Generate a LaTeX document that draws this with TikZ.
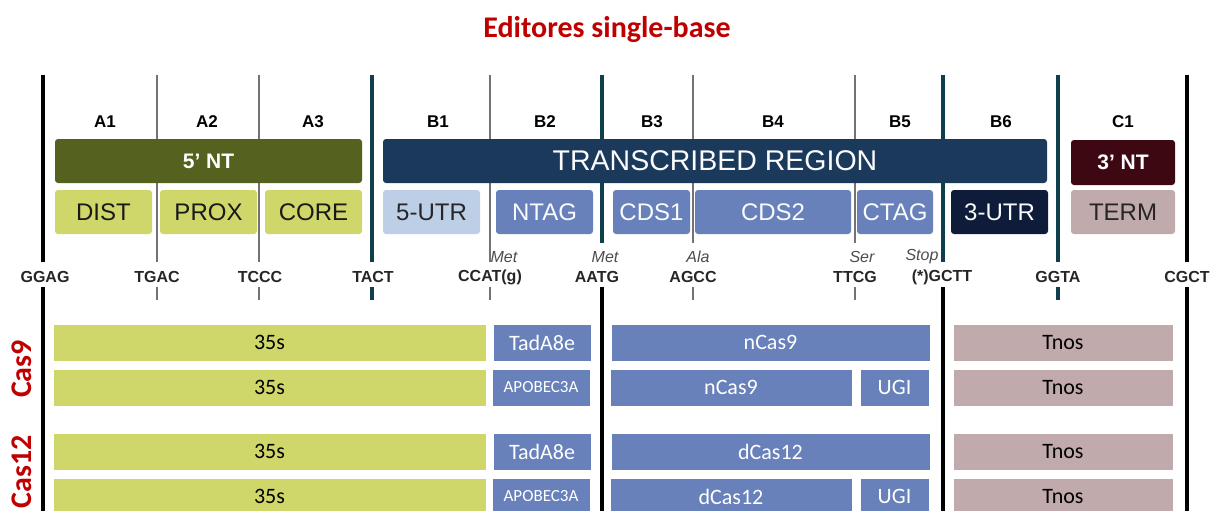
\documentclass[tikz,border=0pt]{standalone}
\usepackage{fontspec}
\setmainfont{Liberation Sans}
\newfontfamily\calibri{Carlito}
\usetikzlibrary{positioning}

\definecolor{olivedark}{RGB}{85,97,30}
\definecolor{olivelight}{RGB}{207,214,106}
\definecolor{navytr}{RGB}{26,57,91}
\definecolor{bluelight}{RGB}{189,207,230}
\definecolor{bluemid}{RGB}{104,129,186}
\definecolor{navydeep}{RGB}{14,28,58}
\definecolor{maroondk}{RGB}{62,8,18}
\definecolor{rosegray}{RGB}{192,170,171}
\definecolor{tealdk}{RGB}{15,62,76}
\definecolor{titlered}{RGB}{192,0,0}

\begin{document}
\begin{tikzpicture}[x=1pt, y=-1pt,
    every node/.style={inner sep=0pt, outer sep=0pt},
    bar/.style={rectangle, rounded corners=3pt, minimum height=44pt, anchor=north west,
                font=\fontsize{24}{24}\selectfont},
    plate/.style={rectangle, draw=white, line width=0.6pt, minimum height=37pt, anchor=north west,
                  font=\calibri\fontsize{22}{22}\selectfont},
    seg/.style={font=\bfseries\fontsize{17}{17}\selectfont},
    site/.style={font=\bfseries\fontsize{16}{16}\selectfont, text=black!85},
    aminoacid/.style={font=\itshape\fontsize{16}{16}\selectfont, text=black!70},
    blackrule/.style={line width=4.5pt, black},
    tealrule/.style={line width=4pt, tealdk},
    thinrule/.style={line width=1.3pt, black!55},
    caslabel/.style={rotate=90, text=titlered, font=\calibri\bfseries\fontsize{30}{30}\selectfont},
    ]
  \useasboundingbox (0,0) rectangle (1212,511);

  % title
  \node[text=titlered, font=\calibri\bfseries\fontsize{30}{30}\selectfont] (title) at (607,30) {Editores single-base};

  % boundary lines
  \foreach \x/\yb in {157/262, 259/262, 490/262, 693/243, 855/243} {
    \draw[thinrule] (\x,75) -- (\x,\yb);
    \draw[thinrule] (\x,287) -- (\x,300);
  }
  \foreach \x/\yb in {372/262, 602/243, 943/262, 1058/262}
    \draw[tealrule] (\x,75) -- (\x,\yb);
  \foreach \x in {372,1058}
    \draw[tealrule] (\x,287) -- (\x,300);
  \foreach \x in {43,1187}
    \draw[blackrule] (\x,75) -- (\x,262);
  \foreach \x in {43,602,943,1187}
    \draw[blackrule] (\x,287) -- (\x,511);

  % segment labels
  \foreach \name/\x in {A1/105, A2/207, A3/313, B1/438, B2/545, B3/652, B4/773, B5/900, B6/1001, C1/1123}
    \node[seg] (seg\name) at (\x,122) {\name};

  % regions
  \node[bar, fill=olivedark, text=white, minimum width=307pt, font=\bfseries\fontsize{21}{21}\selectfont] (nt5) at (55,139) {5’ NT};
  \node[bar, fill=navytr, text=white!92!bluelight, minimum width=664pt, font=\fontsize{28.5}{28.5}\selectfont] (transcribed) at (383,139) {TRANSCRIBED REGION};
  \node[bar, fill=maroondk, text=white, minimum width=104pt, minimum height=45pt, font=\bfseries\fontsize{21}{21}\selectfont] (nt3) at (1071,140) {3’ NT};

  % parts
  \node[bar, fill=olivelight, text=black!90, minimum width=97pt] (dist) at (55,190) {DIST};
  \node[bar, fill=olivelight, text=black!90, minimum width=97pt] (prox) at (160,190) {PROX};
  \node[bar, fill=olivelight, text=black!90, minimum width=97pt] (core) at (265,190) {CORE};
  \node[bar, fill=bluelight, text=black!85, minimum width=97pt] (utr5) at (383,190) {5-UTR};
  \node[bar, fill=bluemid, text=white!92!bluelight, minimum width=97pt] (ntag) at (496,190) {NTAG};
  \node[bar, fill=bluemid, text=white!92!bluelight, minimum width=77pt] (cds1) at (613,190) {CDS1};
  \node[bar, fill=bluemid, text=white!92!bluelight, minimum width=156pt] (cds2) at (695,190) {CDS2};
  \node[bar, fill=bluemid, text=white!92!bluelight, minimum width=76pt] (ctag) at (857,190) {CTAG};
  \node[bar, fill=navydeep, text=white!92!bluelight, minimum width=97pt] (utr3) at (951,190) {3-UTR};
  \node[bar, fill=rosegray, text=black!85, minimum width=104pt] (term) at (1071,190) {TERM};

  % overhangs
  \node[site] (ggag) at (45,277) {GGAG};
  \node[site] (tgac) at (157,277) {TGAC};
  \node[site] (tccc) at (260,277) {TCCC};
  \node[site] (tact) at (373,277) {TACT};
  \node[site] (ccat) at (490,277) {CCAT(g)};
  \node[site] (aatg) at (597,277) {AATG};
  \node[site] (agcc) at (693,277) {AGCC};
  \node[site] (ttcg) at (855,277) {TTCG};
  \node[site] (gctt) at (942,277) {(*)GCTT};
  \node[site] (ggta) at (1058,277) {GGTA};
  \node[site] (cgct) at (1187,277) {CGCT};

  \node[aminoacid] (met1) at (504,257) {Met};
  \node[aminoacid] (met2) at (605,257) {Met};
  \node[aminoacid] (ala) at (698,257) {Ala};
  \node[aminoacid] (ser) at (862,257) {Ser};
  \node[aminoacid] (stop) at (922,257) {Stop};

  % Cas9 editors
  \node[plate, fill=olivelight, minimum width=433pt] (pa) at (53,324) {35s};
  \node[plate, fill=bluemid, text=white, minimum width=98pt, right=7pt of pa] (tadaa) {TadA8e};
  \node[plate, fill=bluemid, text=white, minimum width=319pt] (ncasa) at (611,324) {nCas9};
  \node[plate, fill=rosegray, minimum width=220pt] (tnosa) at (953,324) {Tnos};

  \node[plate, fill=olivelight, minimum width=433pt] (pb) at (53,369) {35s};
  \node[plate, fill=bluemid, text=white, minimum width=98pt, font=\calibri\fontsize{17}{17}\selectfont, right=6pt of pb] (apoba) {APOBEC3A};
  \node[plate, fill=bluemid, text=white, minimum width=242pt] (ncasb) at (610,369) {nCas9};
  \node[plate, fill=bluemid, text=white, minimum width=69pt, right=8pt of ncasb] (ugia) {UGI};
  \node[plate, fill=rosegray, minimum width=220pt] (tnosb) at (953,369) {Tnos};

  % Cas12 editors
  \node[plate, fill=olivelight, minimum width=433pt] (pc) at (53,433) {35s};
  \node[plate, fill=bluemid, text=white, minimum width=98pt, right=7pt of pc] (tadab) {TadA8e};
  \node[plate, fill=bluemid, text=white, minimum width=319pt] (dcasa) at (611,433) {dCas12};
  \node[plate, fill=rosegray, minimum width=220pt] (tnosc) at (953,433) {Tnos};

  \node[plate, fill=olivelight, minimum width=433pt] (pd) at (53,478) {35s};
  \node[plate, fill=bluemid, text=white, minimum width=98pt, font=\calibri\fontsize{17}{17}\selectfont, right=6pt of pd] (apobb) {APOBEC3A};
  \node[plate, fill=bluemid, text=white, minimum width=242pt] (dcasb) at (610,478) {dCas12};
  \node[plate, fill=bluemid, text=white, minimum width=69pt, right=8pt of dcasb] (ugib) {UGI};
  \node[plate, fill=rosegray, minimum width=220pt] (tnosd) at (953,478) {Tnos};

  \node[caslabel] (cas9) at (22,369) {Cas9};
  \node[caslabel] (cas12) at (22,472) {Cas12};
\end{tikzpicture}
\end{document}
